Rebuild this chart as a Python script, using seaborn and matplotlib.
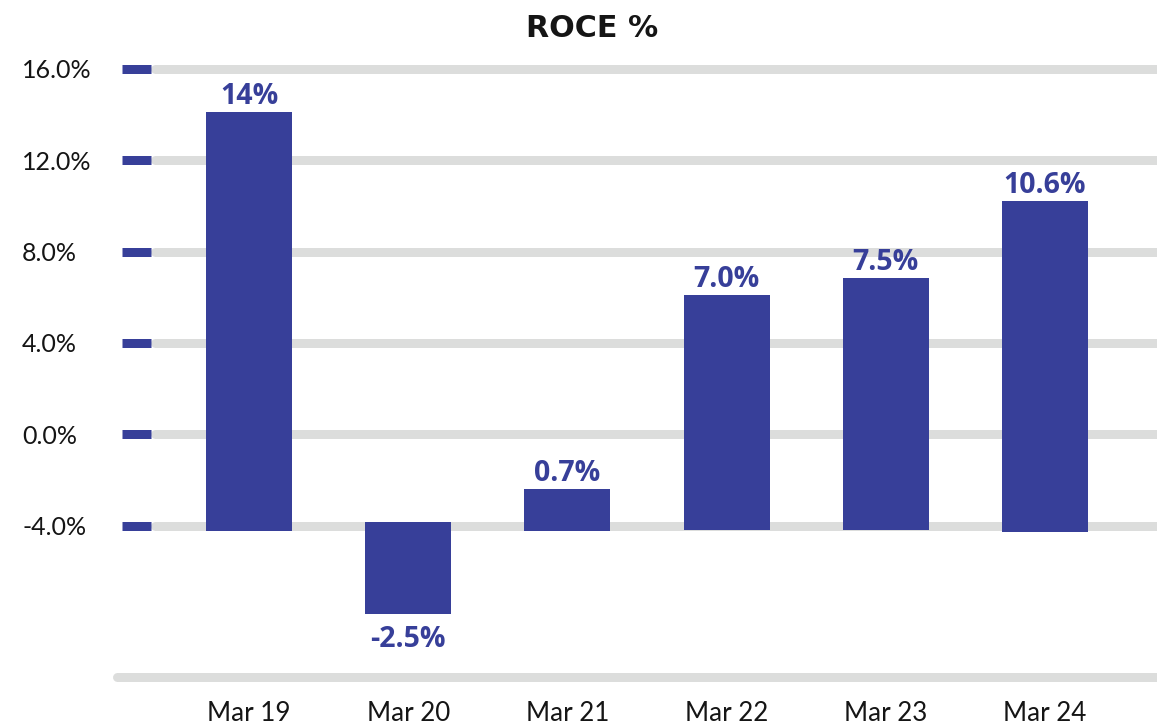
import numpy as np
import pandas as pd
import matplotlib
matplotlib.use("Agg")
import matplotlib.pyplot as plt
import seaborn as sns

# values
years = ["Mar 19", "Mar 20", "Mar 21", "Mar 22", "Mar 23", "Mar 24"]
roce = [14.0, -2.5, 0.7, 7.0, 7.5, 10.6]
roce_labels = ["14%", "-2.5%", "0.7%", "7.0%", "7.5%", "10.6%"]
# bar ends on the drawn axis scale (bars hang off the -4% line, not zero)
bar_low = [-4.22, -7.83, -4.21, -4.17, -4.17, -4.26]
bar_high = [14.10, -3.83, -2.38, 6.10, 6.84, 10.21]
y_ticks = [-4, 0, 4, 8, 12, 16]
y_tick_labels = ["-4.0%", "0.0%", "4.0%", "8.0%", "12.0%", "16.0%"]

BLUE = "#373f99"
GRID = "#dcdddc"
TEXT = "#151515"

W, H = 1157, 724
PX = 72 / 100  # points per pixel at dpi 100

sns.set_style("white")

fig = plt.figure(figsize=(W / 100, H / 100), dpi=100)
ax_left, ax_bottom = 151, 676.5
ax = fig.add_axes([ax_left / W, (H - ax_bottom) / H, (W - ax_left) / W, ax_bottom / H])

df = pd.DataFrame({"year": years, "low": bar_low, "high": bar_high})
df["height"] = df["high"] - df["low"]

sns.barplot(data=df, x="year", y="height", bottom=df["low"].values,
            color=BLUE, saturation=1, width=0.54, linewidth=0, ax=ax, zorder=3)

ax.set_xlim(-0.6156, 5.7035)
ax.set_ylim(-10.58, 18.995)

# grey bands behind the bars
for v in y_ticks:
    ax.axhline(v, xmin=4 / (W - ax_left), color=GRID, lw=9 * PX, zorder=0)
ax.axhline(-10.58, xmin=-34 / (W - ax_left), xmax=1, color=GRID, lw=9 * PX,
           zorder=0, clip_on=False)

# value labels
for i, (val, lab) in enumerate(zip(roce, roce_labels)):
    if val >= 0:
        ax.annotate(lab, (i, bar_high[i]), xytext=(0, 8 * PX), textcoords="offset points",
                    ha="center", va="baseline", color=BLUE, fontsize=20.5,
                    fontweight="bold", family="Open Sans")
    else:
        ax.annotate(lab, (i, bar_low[i]), xytext=(0, -33.4 * PX), textcoords="offset points",
                    ha="center", va="baseline", color=BLUE, fontsize=20.5,
                    fontweight="bold", family="Open Sans")

ax.set_yticks(y_ticks, y_tick_labels)
ax.tick_params(axis="y", length=29 * PX, width=9 * PX, color=BLUE, pad=100 * PX,
               labelsize=18, labelcolor=TEXT, left=True)
for t in ax.get_yticklabels():
    t.set_ha("left")
    t.set_family("Lato")

ax.tick_params(axis="x", length=0, pad=17.5, labelsize=18.7, labelcolor=TEXT)
for t in ax.get_xticklabels():
    t.set_family("Lato")

ax.set_xlabel("")
ax.set_ylabel("")
for s in ax.spines.values():
    s.set_visible(False)

fig.text(592 / W, 1 - 28.5 / H, "ROCE %", ha="center", va="center", fontsize=21.7,
         fontweight="bold", family="DejaVu Sans", color=TEXT)

fig.savefig("out.png", dpi=100)
